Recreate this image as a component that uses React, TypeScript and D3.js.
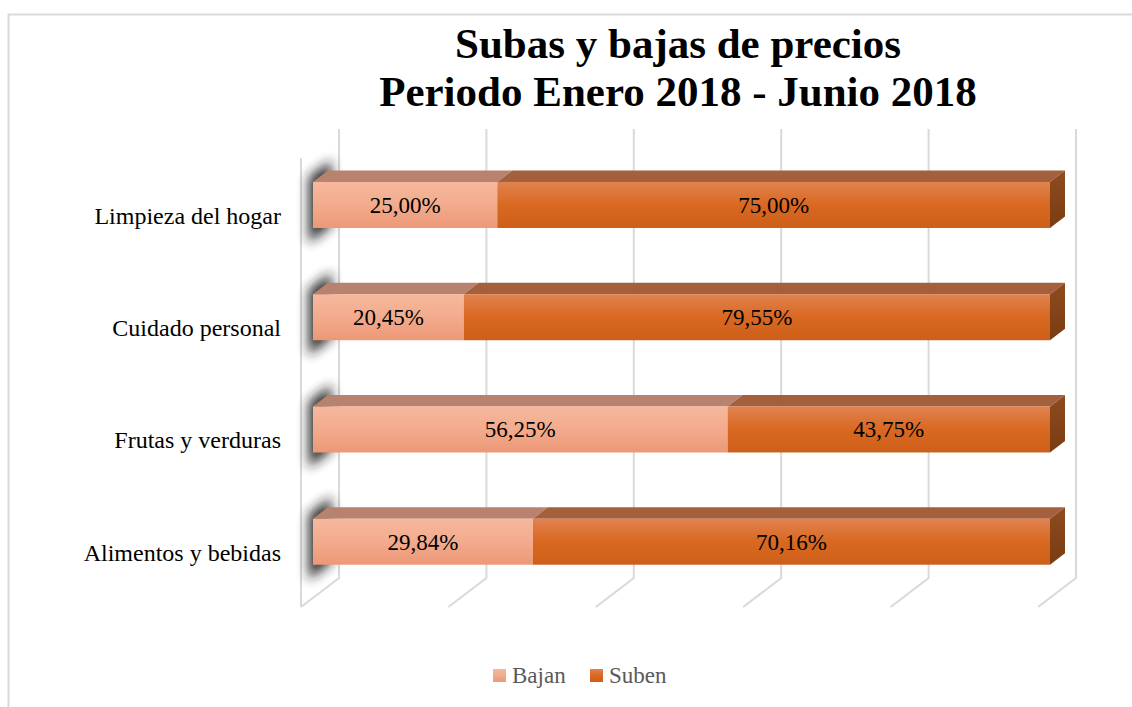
import React from 'react';
import * as d3 from 'd3';

// data (top to bottom)
const categories = ['Limpieza del hogar', 'Cuidado personal', 'Frutas y verduras', 'Alimentos y bebidas'];
const bajan = [25.0, 20.45, 56.25, 29.84];
const suben = [75.0, 79.55, 43.75, 70.16];
const seriesNames = ['Bajan', 'Suben'];
const ticks = [0, 20, 40, 60, 80, 100];
const titleLines = ['Subas y bajas de precios', 'Periodo Enero 2018 - Junio 2018'];

const W = 1132;
const H = 707;
const FONT = "'Liberation Serif', 'Times New Roman', serif";
// 3d box: front plane and depth offset
const front = { left: 301, right: 1038, top: 158, bottom: 607 };
const depth = { dx: 38, dy: -29 };
const barT0 = 12 / 38; // bar front in depth fraction
const barT1 = 27 / 38; // bar back

const fmt = (v: number) => v.toFixed(2).replace('.', ',') + '%';

const App = () => {
  const xFront = d3.scaleLinear().domain([0, 100]).range([front.left, front.right]);
  const at = (t: number) => ({ dx: depth.dx * t, dy: depth.dy * t });
  const b0 = at(barT0);
  const b1 = at(barT1);
  const xBar = (v: number) => xFront(v) + b0.dx;

  const y = d3.scaleBand<string>()
    .domain(categories)
    .range([front.top + b0.dy, front.bottom + b0.dy])
    .paddingInner(0.59)
    .paddingOuter(0.295);

  const bw = y.bandwidth();
  const ddx = b1.dx - b0.dx;
  const ddy = b1.dy - b0.dy;

  const stack = categories.map((c, i) => [
    { key: 'Bajan', c, x0: 0, x1: bajan[i], v: bajan[i] },
    { key: 'Suben', c, x0: bajan[i], x1: bajan[i] + suben[i], v: suben[i] },
  ]);

  const back = at(1);
  const grid = '#d9d9d9';

  return (
    <svg width={W} height={H} style={{ position: 'absolute', left: 0, top: 0, background: '#fff' }}>
      <defs>
        <linearGradient id="gBajan" x1="0" y1="0" x2="0" y2="1">
          <stop offset="0" stopColor="#f6b89d" />
          <stop offset="0.5" stopColor="#f3ab8d" />
          <stop offset="1" stopColor="#ec9877" />
        </linearGradient>
        <linearGradient id="gSuben" x1="0" y1="0" x2="0" y2="1">
          <stop offset="0" stopColor="#e08351" />
          <stop offset="0.5" stopColor="#d96821" />
          <stop offset="1" stopColor="#cd5f1a" />
        </linearGradient>
        <linearGradient id="gSide" x1="0" y1="0" x2="0" y2="1">
          <stop offset="0" stopColor="#8e4c1f" />
          <stop offset="1" stopColor="#7a3c12" />
        </linearGradient>
        <filter id="blur" x="-1" y="-1" width="3" height="3">
          <feGaussianBlur stdDeviation="6" />
        </filter>
      </defs>

      {/* chart border */}
      <path d={`M8.5,${H} V14.5 H${W}`} fill="none" stroke={grid} strokeWidth={2} />

      {/* title */}
      {titleLines.map((t, i) => (
        <text key={t} x={678} y={58 + i * 48} textAnchor="middle" fontFamily={FONT} fontSize={43} fontWeight="bold" fill="#000">{t}</text>
      ))}

      {/* walls: gridlines on back wall and floor */}
      {ticks.map(t => (
        <polyline key={t} fill="none" stroke={grid} strokeWidth={2}
          points={`${xFront(t) + back.dx},${front.top + back.dy} ${xFront(t) + back.dx},${front.bottom + back.dy} ${xFront(t)},${front.bottom}`} />
      ))}
      <line x1={front.left} x2={front.left} y1={front.top} y2={front.bottom} stroke={grid} strokeWidth={2} />

      {/* shadows on left wall */}
      {categories.map(c => {
        const top = (y(c) as number) - b0.dy;
        const p = (t: number, yy: number) => `${front.left + depth.dx * t},${yy + depth.dy * t}`;
        const pts = [p(0.2, top - 8), p(0.8, top - 8), p(0.8, top + bw + 12), p(0.2, top + bw + 12)].join(' ');
        return <polygon key={'s' + c} points={pts} fill="#1f1f1f" opacity={0.9} filter="url(#blur)" />;
      })}

      {/* bars */}
      {stack.map((segs, i) => {
        const c = categories[i];
        const top = y(c) as number;
        return (
          <g key={c}>
            {segs.map((s, j) => {
              const xa = xBar(s.x0);
              const xb = xBar(s.x1);
              return (
                <g key={s.key}>
                  <polygon fill={j === 0 ? '#b8836e' : '#a4603c'}
                    points={`${xa},${top} ${xb},${top} ${xb + ddx},${top + ddy} ${xa + ddx},${top + ddy}`} />
                  <rect x={xa} y={top} width={xb - xa} height={bw} fill={j === 0 ? 'url(#gBajan)' : 'url(#gSuben)'} />
                  {j === segs.length - 1 && (
                    <polygon fill="url(#gSide)"
                      points={`${xb},${top} ${xb + ddx},${top + ddy} ${xb + ddx},${top + bw + ddy} ${xb},${top + bw}`} />
                  )}
                  <text x={(xa + xb) / 2} y={top + bw / 2 + 8} textAnchor="middle" fontFamily={FONT} fontSize={23} fill="#000">{fmt(s.v)}</text>
                </g>
              );
            })}
          </g>
        );
      })}

      {/* category labels */}
      {categories.map(c => (
        <text key={'l' + c} x={281} y={(y(c) as number) + bw / 2 + 19} textAnchor="end" fontFamily={FONT} fontSize={24} fill="#000">{c}</text>
      ))}

      {/* legend */}
      {seriesNames.map((n, i) => {
        const lx = [493, 590][i];
        return (
          <g key={n}>
            <rect x={lx} y={669} width={13} height={13} fill={i === 0 ? 'url(#gBajan)' : 'url(#gSuben)'} />
            <text x={lx + 19} y={683} fontFamily={FONT} fontSize={23} fill="#595959">{n}</text>
          </g>
        );
      })}
    </svg>
  );
};

export default App;
